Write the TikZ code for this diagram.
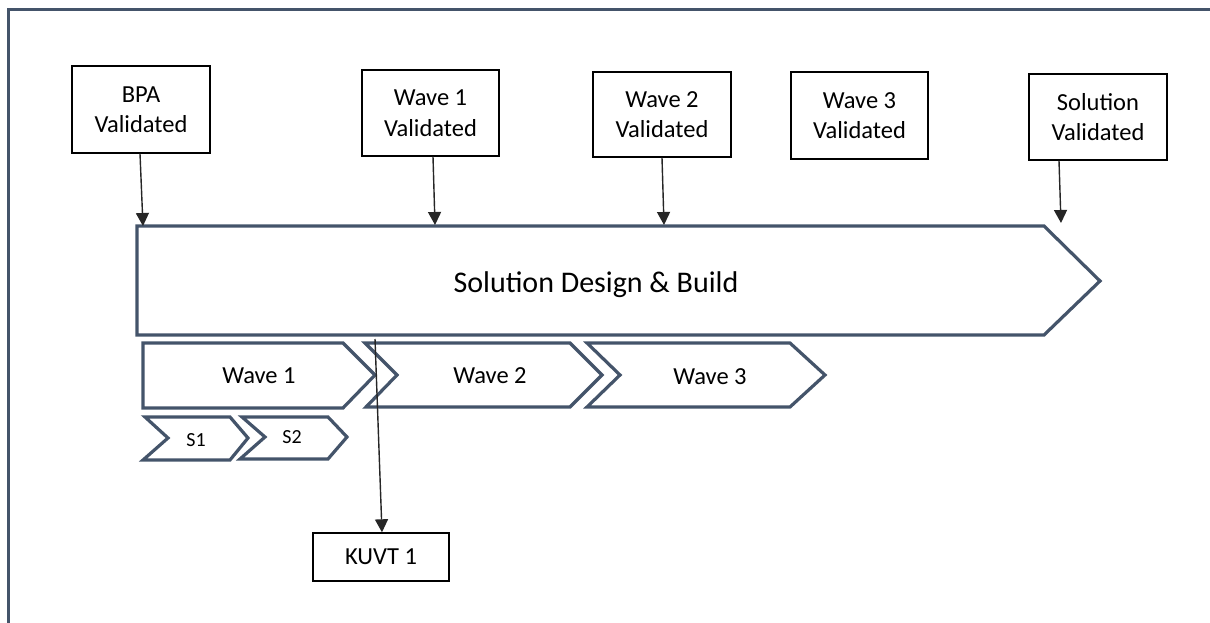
\documentclass[tikz,border=0pt]{standalone}
\usepackage{fontspec}
\setmainfont{Carlito}
\usetikzlibrary{arrows.meta,calc}
\definecolor{slate}{HTML}{44546A}
\definecolor{arrowgray}{HTML}{262626}
\tikzset{
  frameline/.style={draw=slate,line width=3pt},
  chevron/.style={draw=slate,line width=3.2pt,line join=miter,fill=white},
  gate/.style={draw=black,line width=1.4pt,fill=white,inner sep=0pt,
    align=center,font=\fontsize{24.5}{30.5}\selectfont},
  label/.style={inner sep=0pt,font=\fontsize{24.5}{30}\selectfont},
  small/.style={inner sep=0pt,font=\fontsize{20}{24}\selectfont},
  big/.style={inner sep=0pt,font=\fontsize{30}{36}\selectfont},
  flow/.style={draw=arrowgray,line width=1.4pt,-{Triangle[width=13pt,length=13pt]}},
}
\begin{document}
\begin{tikzpicture}[x=1pt,y=-1pt]
\useasboundingbox (0,0) rectangle (1210,623);
\begin{scope}
  \clip (0,0) rectangle (1210,623);
  % outer frame (only its top and left sides fall inside the page)
  \draw[frameline] (8,640) -- (8,10) -- (1230,10);
\end{scope}

% main phase
\draw[chevron] (137,226) -- (1044,226) -- (1100,281) -- (1044,335) -- (137,335) -- cycle;
\node[big] (sdb) at (596,285) {Solution Design \& Build};

% waves
\draw[chevron] (143,343) -- (343,343) -- (375,375) -- (343,408) -- (143,408) -- cycle;
\draw[chevron] (365,343) -- (570,343) -- (602,375) -- (570,407) -- (366,407) -- (397,375) -- cycle;
\draw[chevron] (587,343) -- (790,343) -- (825,375) -- (790,407) -- (587,407) -- (620,375) -- cycle;
\node[label] (w1) at (259,376) {Wave 1};
\node[label] (w2) at (490,376) {Wave 2};
\node[label] (w3) at (710,377) {Wave 3};

% sprints
\draw[chevron] (145,417) -- (230,417) -- (248,438) -- (230,460) -- (143,460) -- (168,438) -- cycle;
\draw[chevron] (242,417) -- (328,417) -- (347,437) -- (328,459) -- (240,459) -- (265,437) -- cycle;
\node[small] (s1) at (196,440) {S1};
\node[small] (s2) at (292,437) {S2};

% validation gates
\node[gate,minimum width=138pt,minimum height=87pt] (bpa) at (141,109.5) {BPA\\Validated};
\node[gate,minimum width=137pt,minimum height=86pt] (v1) at (430.5,113) {Wave 1\\Validated};
\node[gate,minimum width=138pt,minimum height=85pt] (v2) at (662,114.5) {Wave 2\\Validated};
\node[gate,minimum width=137pt,minimum height=87pt] (v3) at (859.5,115.5) {Wave 3\\Validated};
\node[gate,minimum width=138pt,minimum height=86pt] (sv) at (1098,117) {Solution\\Validated};
\node[gate,minimum width=136pt,minimum height=48pt] (kuvt) at (381,557) {KUVT 1};

% arrow targets on the phase bars
\coordinate (tbpa) at (143,226);
\coordinate (tv1) at (435,225);
\coordinate (tv2) at (664,225);
\coordinate (tsv) at (1061,223);
\coordinate (kstart) at (375,339);

\draw[flow] ([xshift=-1pt]bpa.south) -- (tbpa);
\draw[flow] ([xshift=2.5pt]v1.south) -- (tv1);
\draw[flow] (v2.south) -- (tv2);
\draw[flow] ([xshift=-39pt]sv.south) -- (tsv);
\draw[flow] (kstart) -- ([xshift=1pt]kuvt.north);
\end{tikzpicture}
\end{document}
